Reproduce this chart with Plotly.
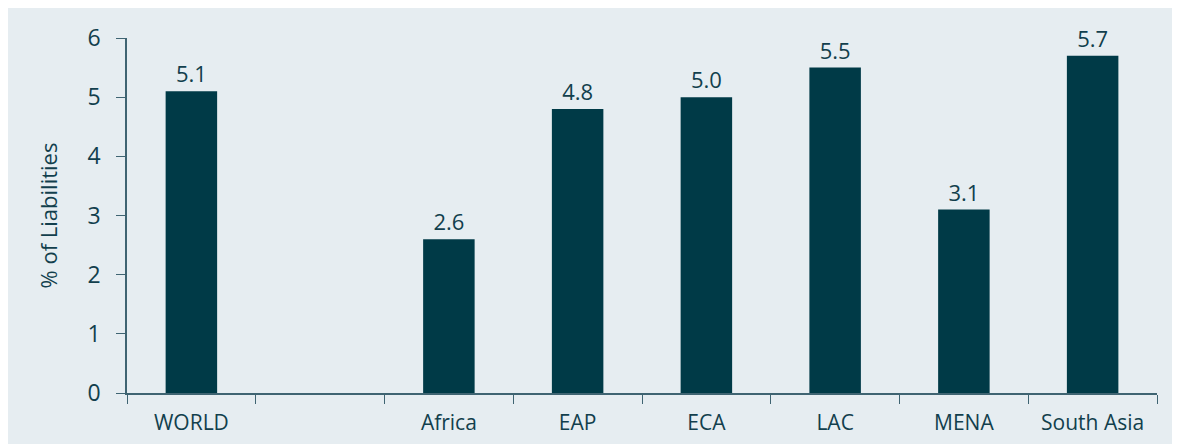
import plotly.graph_objects as go

categories = ["WORLD", " ", "Africa", "EAP", "ECA", "LAC", "MENA", "South Asia"]
values = [5.1, None, 2.6, 4.8, 5.0, 5.5, 3.1, 5.7]
labels = ["5.1", "", "2.6", "4.8", "5.0", "5.5", "3.1", "5.7"]

bar_color = "#003a47"
text_color = "#123f4d"
axis_color = "#3f6472"
bg = "#e6edf1"
font = "Open Sans, Noto Sans, sans-serif"

fig = go.Figure(go.Bar(
    x=categories, y=values, text=labels, textposition="outside",
    marker=dict(color=bar_color, line=dict(width=0)),
    textfont=dict(size=22, color=text_color, family=font),
    cliponaxis=False, width=0.4,
))

fig.update_layout(
    width=1180, height=444,
    margin=dict(l=119, r=31, t=30, b=59),
    paper_bgcolor=bg, plot_bgcolor=bg,
    showlegend=False,
    font=dict(family=font, color=text_color, size=21),
    xaxis=dict(
        type="category", showline=True, linecolor=axis_color, linewidth=1.5,
        ticks="outside", tickson="boundaries", ticklen=9, tickcolor=axis_color,
        tickfont=dict(size=21, color=text_color, family=font),
        ticklabelstandoff=10,
        showgrid=False, zeroline=False,
    ),
    yaxis=dict(
        range=[0, 6], dtick=1, showline=True, linecolor=axis_color, linewidth=1.5,
        ticks="outside", ticklen=9, tickcolor=axis_color,
        tickfont=dict(size=23, color=text_color, family=font),
        ticklabelstandoff=11,
        showgrid=False, zeroline=False,
        title=dict(text="% of Liabilities", font=dict(size=22, color=text_color, family=font), standoff=24),
    ),
)

fig.write_html(
    "out.html",
    config={"displayModeBar": False},
    post_script="document.documentElement.style.overflow='hidden';document.body.style.overflow='hidden';",
)
